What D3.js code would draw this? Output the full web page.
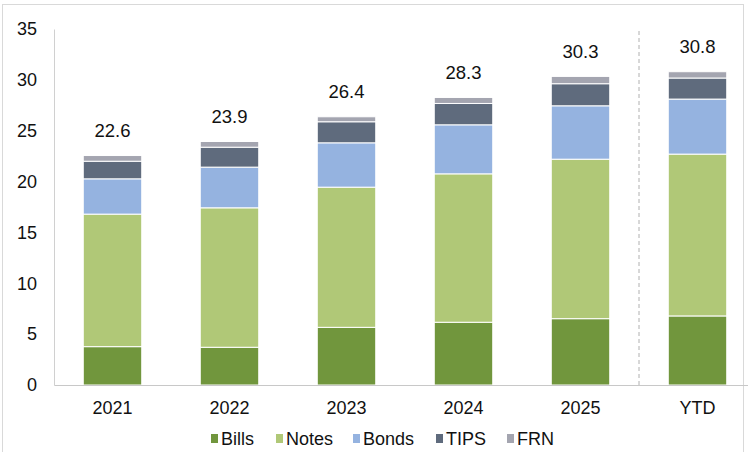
<!DOCTYPE html>
<html>
<head>
<meta charset="utf-8">
<script src="https://cdn.jsdelivr.net/npm/d3@7"></script>
<style>
  html, body { margin: 0; padding: 0; background: #fff; }
  svg { display: block; font-family: "Liberation Sans", Arial, sans-serif; }
</style>
</head>
<body>
<svg id="chart" width="748" height="452"></svg>
<script>
const categories = ["2021", "2022", "2023", "2024", "2025", "YTD"];
const seriesNames = ["Bills", "Notes", "Bonds", "TIPS", "FRN"];
const bills = [3.77, 3.71, 5.67, 6.17, 6.52, 6.79];
const notes = [13.03, 13.71, 13.78, 14.59, 15.68, 15.91];
const bonds = [3.47, 4.00, 4.36, 4.82, 5.25, 5.41];
const tips  = [1.73, 1.96, 2.07, 2.10, 2.17, 2.07];
const frn   = [0.56, 0.56, 0.49, 0.59, 0.72, 0.62];
const totalLabels = ["22.6", "23.9", "26.4", "28.3", "30.3", "30.8"];
const yTicks = [0, 5, 10, 15, 20, 25, 30, 35];
const colors = ["#71963D", "#B0C877", "#95B3E0", "#5F6B7D", "#A4A5B0"];

const seriesValues = [bills, notes, bonds, tips, frn];
const table = categories.map((c, i) => {
  const row = { cat: c, label: totalLabels[i] };
  seriesNames.forEach((s, j) => row[s] = seriesValues[j][i]);
  return row;
});

const svg = d3.select("#chart");

// outer frame
svg.append("rect")
  .attr("x", 2.5).attr("y", 4.5).attr("width", 741).attr("height", 470)
  .attr("fill", "none").attr("stroke", "#d9d9d9").attr("stroke-width", 1);

const x = d3.scaleBand().domain(categories).range([54, 756])
  .paddingInner(0.5).paddingOuter(0.25);
const y = d3.scaleLinear().domain([0, 35]).range([385, 29]);

const stack = d3.stack().keys(seriesNames);
const stacked = stack(table);

const g = svg.append("g");
g.selectAll("g.series").data(stacked).join("g")
  .attr("class", "series")
  .attr("fill", (d, i) => colors[i])
  .selectAll("rect").data(d => d).join("rect")
  .attr("x", d => x(d.data.cat))
  .attr("width", x.bandwidth())
  .attr("y", d => y(d[1]))
  .attr("height", d => y(d[0]) - y(d[1]))
  .attr("stroke", "#fff")
  .attr("stroke-width", 1);

// total labels
const totals = table.map(r => seriesNames.reduce((a, s) => a + r[s], 0));
g.selectAll("text.total").data(table).join("text")
  .attr("class", "total")
  .attr("x", d => x(d.cat) + x.bandwidth() / 2)
  .attr("y", (d, i) => y(totals[i]) - 25)
  .attr("dy", "0.35em")
  .attr("text-anchor", "middle")
  .attr("font-size", 18.5)
  .attr("fill", "#111")
  .text(d => d.label);

// dashed separator between 2025 and YTD
const sepX = (x("2025") + x.bandwidth() + x("YTD")) / 2;
svg.append("line")
  .attr("x1", sepX).attr("x2", sepX)
  .attr("y1", 31).attr("y2", y(0))
  .attr("stroke", "#b0b0b0").attr("stroke-width", 1)
  .attr("stroke-dasharray", "4,3");

// y axis
const yAxis = svg.append("g").attr("transform", "translate(54,0)")
  .call(d3.axisLeft(y).tickValues(yTicks).tickSize(0).tickSizeOuter(0).tickPadding(17));
yAxis.select(".domain").attr("stroke", "#d0d0d0");
yAxis.selectAll("text").attr("font-size", 18).attr("fill", "#111")
  .attr("font-family", "Liberation Sans, Arial, sans-serif");

// x axis
const xAxis = svg.append("g").attr("transform", `translate(0,${y(0)})`)
  .call(d3.axisBottom(x).tickSize(0).tickSizeOuter(0).tickPadding(16));
xAxis.select(".domain").attr("stroke", "#c8c8c8");
xAxis.selectAll("text").attr("font-size", 18).attr("fill", "#111")
  .attr("font-family", "Liberation Sans, Arial, sans-serif");

// legend
const legendX = [211, 276, 353, 436, 507];
const legend = svg.append("g");
seriesNames.forEach((s, i) => {
  legend.append("rect")
    .attr("x", legendX[i]).attr("y", 434)
    .attr("width", 7).attr("height", 9)
    .attr("fill", colors[i]);
  legend.append("text")
    .attr("x", legendX[i] + 10).attr("y", 439)
    .attr("dy", "0.35em")
    .attr("font-size", 18).attr("fill", "#111")
    .text(s);
});
</script>
</body>
</html>
